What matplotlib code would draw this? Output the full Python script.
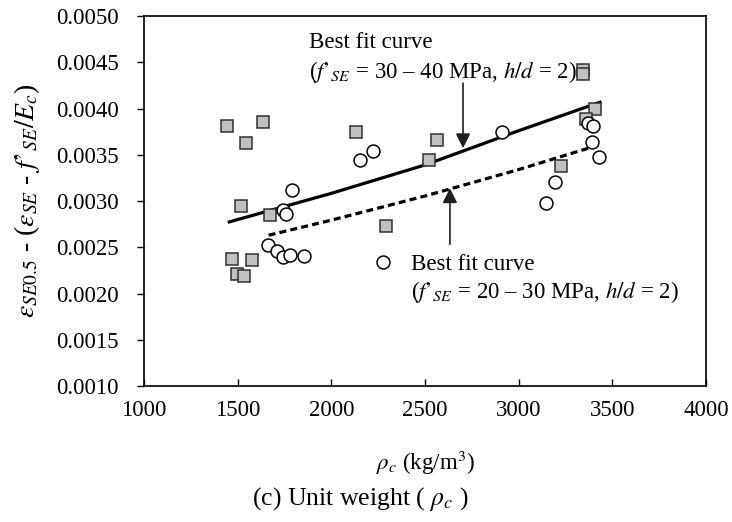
import matplotlib.pyplot as plt
from matplotlib.ticker import FormatStrFormatter, MultipleLocator

plt.rcParams['font.family'] = ['Liberation Serif', 'DejaVu Serif']
plt.rcParams['mathtext.fontset'] = 'stix'

# f'SE = 30-40 MPa (grey squares)
sq_rho = [1441, 1637, 1544, 2130, 1518, 1673, 1468, 1575, 1495, 1535,
          2566, 2523, 2290, 3226, 3407, 3359, 3343, 3343]
sq_eps = [0.00381, 0.00385, 0.00363, 0.00375, 0.00295, 0.00285, 0.00237, 0.00236, 0.00221, 0.00219,
          0.003665, 0.00344, 0.00273, 0.00338, 0.00400, 0.00389, 0.00442, 0.00437]

# f'SE = 20-30 MPa (open circles)
ci_rho = [1788, 2153, 2221, 1744, 1756, 1664, 1712, 1744, 1779, 1854,
          2913, 3194, 3144, 3393, 3429, 3372, 3395]
ci_eps = [0.00312, 0.00344, 0.00354, 0.00290, 0.00286, 0.00252, 0.00246, 0.00240, 0.00242, 0.00241,
          0.00375, 0.00321, 0.00298, 0.00364, 0.00348, 0.00384, 0.00381]

# best fit curves
fit1_rho = [1455, 2000, 2500, 3000, 3434]
fit1_eps = [0.002774, 0.003083, 0.003390, 0.003760, 0.004068]
fit2_rho = [1665, 2000, 2500, 3000, 3425]
fit2_eps = [0.002630, 0.002793, 0.003054, 0.003340, 0.003604]

fig = plt.figure(figsize=(7.32, 5.22), dpi=100)
ax = fig.add_axes([0.1967, 0.2605, 0.7678, 0.7088])

ax.plot(fit1_rho, fit1_eps, color='black', lw=2.3, zorder=2)
ax.plot(fit2_rho, fit2_eps, color='black', lw=2.3, ls=(0, (2.2, 1.3)), zorder=2)
ax.plot(sq_rho, sq_eps, ls='none', marker='s', ms=9.3, mfc='#c0c0c0', mec='#303030', mew=1.1, zorder=3)
ax.plot(ci_rho, ci_eps, ls='none', marker='o', ms=9.3, mfc='white', mec='black', mew=1.1, zorder=3)

# legend-like labels
ax.plot([2276], [0.002338], ls='none', marker='o', ms=9.3, mfc='white', mec='black', mew=1.1)
fs = 16.5
ax.text(1880, 0.004654, 'Best fit curve', fontsize=fs, va='baseline')
ax.text(1880, 0.004329, "($f’_{SE}$ = 30 – 40 MPa, $h/d$ = 2)", fontsize=fs, va='baseline')
ax.text(2425, 0.002251, 'Best fit curve', fontsize=fs, va='baseline')
ax.text(2425, 0.001948, "($f’_{SE}$ = 20 – 30 MPa, $h/d$ = 2)", fontsize=fs, va='baseline')

arrow = dict(arrowstyle='-|>', color='#202020', lw=1.2, mutation_scale=22, shrinkA=0, shrinkB=0)
ax.annotate('', xy=(2703, 0.003571), xytext=(2703, 0.004275), arrowprops=arrow)
ax.annotate('', xy=(2633, 0.003138), xytext=(2633, 0.002532), arrowprops=arrow)

ax.set_xlim(1000, 4000)
ax.set_ylim(0.0010, 0.0050)
ax.xaxis.set_major_locator(MultipleLocator(500))
ax.yaxis.set_major_locator(MultipleLocator(0.0005))
ax.yaxis.set_major_formatter(FormatStrFormatter('%.4f'))
ax.tick_params(axis='x', direction='in', length=5, width=1, labelsize=fs, pad=10)
ax.tick_params(axis='y', direction='out', length=5, width=1, labelsize=fs, pad=13)
for s in ax.spines.values():
    s.set_linewidth(1.2)

ax.set_xlabel(r'$\rho_c$ (kg/m$^3$)', fontsize=fs, labelpad=20)
ax.set_ylabel("$\\varepsilon_{SE0.5}$ - ($\\varepsilon_{SE}$ - $f’_{SE}/E_c$)", fontsize=20, labelpad=10)

fig.text(0.493, 0.045, r'(c) Unit weight ( $\rho_c$ )', fontsize=18.5, ha='center', va='center')

fig.savefig('out.png', dpi=100)
